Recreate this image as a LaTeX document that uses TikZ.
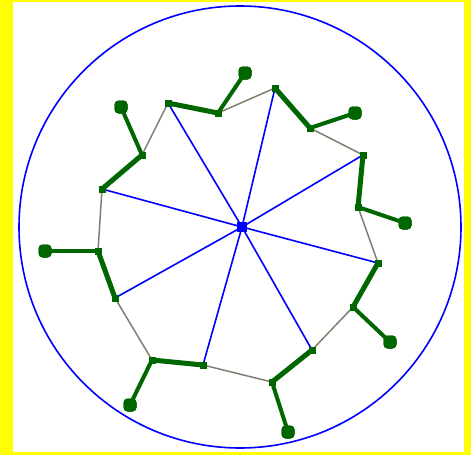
\documentclass[tikz,border=0pt]{standalone}
\begin{document}
\begin{tikzpicture}[x=1pt,y=-1pt,
  sq/.style={rectangle,fill=dgreen,inner sep=0pt,minimum size=7pt},
  foot/.style={rectangle,rounded corners=4pt,fill=dgreen,inner sep=0pt,minimum size=13pt},
  hub/.style={rectangle,fill=blue,inner sep=0pt,minimum size=10pt},
  spoke/.style={draw=blue,line width=1.6pt},
  rim/.style={draw=edgegray,line width=1.5pt},
  leg/.style={draw=dgreen,line width=5pt},
  shin/.style={draw=dgreen,line width=4pt}]
\definecolor{dgreen}{RGB}{0,102,0}
\definecolor{edgegray}{RGB}{128,128,112}
\definecolor{bord}{RGB}{255,255,0}
\useasboundingbox (0,0) rectangle (471,455);
\fill[bord] (0,0) rectangle (471,455);
\fill[white] (13,2) rectangle (464,452);
\node[circle,draw=blue,line width=1.6pt,minimum size=442pt,inner sep=0pt] (ring) at (240,227) {};
\node[hub] (O) at (242,227) {};
\foreach \n/\sx/\sy/\kx/\ky/\fx/\fy in {
  1/168/103/218/113/245/73,
  2/275/88/310/128/355/113,
  3/363/155/358/207/405/223,
  4/378/263/353/307/390/342,
  5/312/350/272/382/288/432,
  6/203/365/152/360/130/405,
  7/115/298/98/251/45/251,
  8/102/189/142/155/121/107}{
  \node[sq] (S\n) at (\sx,\sy) {};
  \node[sq] (K\n) at (\kx,\ky) {};
  \node[foot] (F\n) at (\fx,\fy) {};
}
\foreach \a/\b in {1/2,2/3,3/4,4/5,5/6,6/7,7/8,8/1}{
  \draw[rim] (K\a.center) -- (S\b.center);
}
\foreach \a in {1,...,8}{
  \draw[spoke] (O.center) -- (S\a.center);
  \draw[leg,line cap=round] (S\a.center) -- (K\a.center);
  \draw[shin,line cap=round] (K\a.center) -- (F\a.center);
}
\node[hub] at (O) {};
\foreach \a in {1,...,8}{
  \node[sq] at (S\a) {};
  \node[sq] at (K\a) {};
  \node[foot] at (F\a) {};
}
\end{tikzpicture}
\end{document}
